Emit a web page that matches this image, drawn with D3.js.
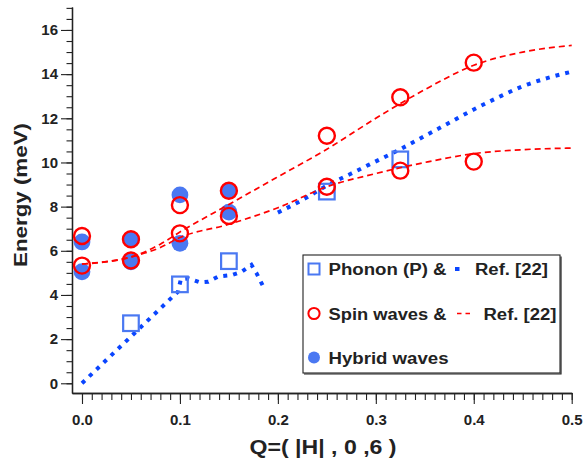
<!DOCTYPE html>
<html><head><meta charset="utf-8">
<script src="https://cdn.jsdelivr.net/npm/d3@7"></script>
<style>
html,body{margin:0;padding:0;background:#fff;}
svg{display:block;font-family:"Liberation Sans",Arial,Helvetica,sans-serif;}
</style></head>
<body><svg id="c" width="583" height="464"></svg>
<script>
// ---- data ----
const hybridQ = [0, 0, 0.05, 0.05, 0.1, 0.1, 0.15, 0.15];
const hybridE = [6.4, 5.05, 6.52, 5.5, 8.53, 6.34, 8.72, 7.75];
const spinQ = [0, 0, 0.05, 0.05, 0.1, 0.1, 0.15, 0.15, 0.25, 0.25, 0.325, 0.325, 0.4, 0.4];
const spinE = [6.67, 5.33, 6.52, 5.56, 8.07, 6.79, 8.72, 7.58, 11.21, 8.9, 12.95, 9.63, 14.52, 10.04];
const phononQ = [0.05, 0.1, 0.15, 0.25, 0.325];
const phononE = [2.72, 4.48, 5.53, 8.68, 10.14];
const phRef1Q = [0, 0.098, 0.101, 0.109, 0.1205, 0.129, 0.139, 0.153, 0.163, 0.173, 0.178, 0.186];
const phRef1E = [0, 4.15, 4.72, 4.75, 4.57, 4.6, 4.83, 4.9, 5.05, 5.36, 5.0, 4.3];
const phRef2Q = [0.2, 0.225, 0.25, 0.275, 0.3, 0.325, 0.35, 0.375, 0.4, 0.425, 0.45, 0.475, 0.5];
const phRef2E = [7.73, 8.3, 8.95, 9.5, 10.05, 10.6, 11.2, 11.8, 12.4, 12.95, 13.45, 13.82, 14.11];
const swRefQ = [0, 0.05, 0.08, 0.1, 0.15, 0.2, 0.25, 0.3, 0.35, 0.4, 0.45, 0.5];
const swUpperE = [5.4, 5.72, 6.3, 6.85, 8.1, 9.35, 10.6, 12.0, 13.3, 14.4, 15.0, 15.3];
const swLowerE = [5.4, 5.72, 6.15, 6.6, 7.2, 7.95, 8.9, 9.5, 10.0, 10.4, 10.58, 10.65];
const xMajorTicks = [0, 0.1, 0.2, 0.3, 0.4, 0.5];
const xTickLabels = ["0.0", "0.1", "0.2", "0.3", "0.4", "0.5"];
const yMajorTicks = [0, 2, 4, 6, 8, 10, 12, 14, 16];
const legendLabels = ["Phonon (P) &", "Spin waves &", "Hybrid waves"];
const legendRef = "Ref. [22]";
const xTitle = "Q=( |H| , 0 ,6 )";
const yTitle = "Energy (meV)";

// ---- setup ----
const svg = d3.select("#c");
const x = d3.scaleLinear().domain([-0.0102, 0.5]).range([72, 571.7]);
const y = d3.scaleLinear().domain([-0.44, 17.04]).range([393, 7]);
const axisColor = "#222";
const blueFill = "#4a78f2";
const blueLine = "#0a45ff";
const red = "#ff0000";

// axes
const xMinor = d3.range(0, 51).map(i => i / 100);
const yMinor = d3.range(0, 35).map(i => i / 2);

const gx = svg.append("g").attr("transform", "translate(0,393)");
gx.call(d3.axisBottom(x).tickValues(xMinor).tickSize(7).tickSizeOuter(0).tickFormat(""));
gx.append("g").call(d3.axisBottom(x).tickValues(xMajorTicks).tickSize(11).tickSizeOuter(0)
  .tickFormat((d, i) => xTickLabels[i]));
gx.selectAll("path.domain").attr("stroke", axisColor).attr("stroke-width", 1.3);
gx.selectAll(".tick line").attr("stroke", axisColor).attr("stroke-width", 1.1);
gx.selectAll(".tick text").attr("y", 21).attr("dy", "0.71em").attr("fill", "#222")
  .attr("font-size", 15).attr("font-weight", "bold").attr("font-family", "Liberation Sans, Arial, sans-serif");

const gy = svg.append("g").attr("transform", "translate(72,0)");
gy.call(d3.axisLeft(y).tickValues(yMinor).tickSize(5.5).tickSizeOuter(0).tickFormat(""));
gy.append("g").call(d3.axisLeft(y).tickValues(yMajorTicks).tickSize(11).tickSizeOuter(0)
  .tickFormat(d3.format("d")));
gy.selectAll("path.domain").attr("stroke", axisColor).attr("stroke-width", 1.3);
gy.selectAll(".tick line").attr("stroke", axisColor).attr("stroke-width", 1.1);
gy.selectAll(".tick text").attr("x", -14).attr("fill", "#222")
  .attr("font-size", 15).attr("font-weight", "bold").attr("font-family", "Liberation Sans, Arial, sans-serif");

// titles
svg.append("text").attr("x", 323).attr("y", 454).attr("text-anchor", "middle")
  .attr("font-size", 20).attr("font-weight", "bold").attr("fill", "#222")
  .attr("textLength", 147).attr("lengthAdjust", "spacingAndGlyphs").text(xTitle);
svg.append("text").attr("transform", "translate(26.5,195) rotate(-90)").attr("text-anchor", "middle")
  .attr("font-size", 17.5).attr("font-weight", "bold").attr("fill", "#222")
  .attr("textLength", 144).attr("lengthAdjust", "spacingAndGlyphs").text(yTitle);

// ---- marks ----
const plot = svg.append("g");
plot.selectAll("circle.hy").data(hybridQ.map((q, i) => [q, hybridE[i]])).join("circle")
  .attr("class", "hy").attr("cx", d => x(d[0])).attr("cy", d => y(d[1])).attr("r", 8.4)
  .attr("fill", blueFill);

const lineGen = d3.line().x(d => x(d[0])).y(d => y(d[1]));
const lineSmooth = d3.line().x(d => x(d[0])).y(d => y(d[1])).curve(d3.curveMonotoneX);

plot.append("path").datum(phRef1Q.map((q, i) => [q, phRef1E[i]])).attr("d", lineGen)
  .attr("fill", "none").attr("stroke", blueLine).attr("stroke-width", 4).attr("stroke-dasharray", "4,6");
plot.append("path").datum(phRef2Q.map((q, i) => [q, phRef2E[i]])).attr("d", lineSmooth)
  .attr("fill", "none").attr("stroke", blueLine).attr("stroke-width", 4).attr("stroke-dasharray", "4,6");

plot.selectAll("rect.ph").data(phononQ.map((q, i) => [q, phononE[i]])).join("rect")
  .attr("class", "ph").attr("x", d => x(d[0]) - 7.8).attr("y", d => y(d[1]) - 7.8)
  .attr("width", 15.6).attr("height", 15.6).attr("fill", "none")
  .attr("stroke", blueFill).attr("stroke-width", 2.2);

[swUpperE, swLowerE].forEach(arr => {
  plot.append("path").datum(swRefQ.map((q, i) => [q, arr[i]])).attr("d", lineSmooth)
    .attr("fill", "none").attr("stroke", red).attr("stroke-width", 1.7).attr("stroke-dasharray", "6,4");
});

plot.selectAll("circle.sw").data(spinQ.map((q, i) => [q, spinE[i]])).join("circle")
  .attr("class", "sw").attr("cx", d => x(d[0])).attr("cy", d => y(d[1])).attr("r", 8)
  .attr("fill", "none").attr("stroke", red).attr("stroke-width", 2.4);

// ---- legend ----
const lg = svg.append("g");
lg.append("path").attr("d", "M561,256.5 V374 H304").attr("fill", "none").attr("stroke", "#222").attr("stroke-width", 1.2);
lg.append("rect").attr("x", 303).attr("y", 255).attr("width", 257).attr("height", 118)
  .attr("fill", "#fff").attr("stroke", "#222").attr("stroke-width", 1.1);
const rowY = [269, 313.5, 357.5];
lg.append("rect").attr("x", 308.5).attr("y", rowY[0] - 5.5).attr("width", 11).attr("height", 11)
  .attr("fill", "none").attr("stroke", blueFill).attr("stroke-width", 2);
lg.append("circle").attr("cx", 314).attr("cy", rowY[1]).attr("r", 5.6)
  .attr("fill", "none").attr("stroke", red).attr("stroke-width", 2);
lg.append("circle").attr("cx", 314).attr("cy", rowY[2]).attr("r", 6)
  .attr("fill", blueFill);
const legendWidths = [118, 118, 120];
legendLabels.forEach((t, i) => {
  lg.append("text").attr("x", 328.5).attr("y", rowY[i] + 6).attr("font-size", 16)
    .attr("font-weight", "bold").attr("fill", "#222")
    .attr("textLength", legendWidths[i]).attr("lengthAdjust", "spacingAndGlyphs").text(t);
});
lg.append("line").attr("x1", 455).attr("x2", 459.5).attr("y1", rowY[0]).attr("y2", rowY[0])
  .attr("stroke", blueLine).attr("stroke-width", 4);
lg.append("line").attr("x1", 457).attr("x2", 470).attr("y1", rowY[1]).attr("y2", rowY[1])
  .attr("stroke", red).attr("stroke-width", 1.7).attr("stroke-dasharray", "4.5,4");
lg.append("text").attr("x", 475).attr("y", rowY[0] + 6).attr("font-size", 16)
  .attr("font-weight", "bold").attr("fill", "#222").attr("textLength", 73)
  .attr("lengthAdjust", "spacingAndGlyphs").text(legendRef);
lg.append("text").attr("x", 483.5).attr("y", rowY[1] + 6).attr("font-size", 16)
  .attr("font-weight", "bold").attr("fill", "#222").attr("textLength", 73)
  .attr("lengthAdjust", "spacingAndGlyphs").text(legendRef);
</script></body></html>
